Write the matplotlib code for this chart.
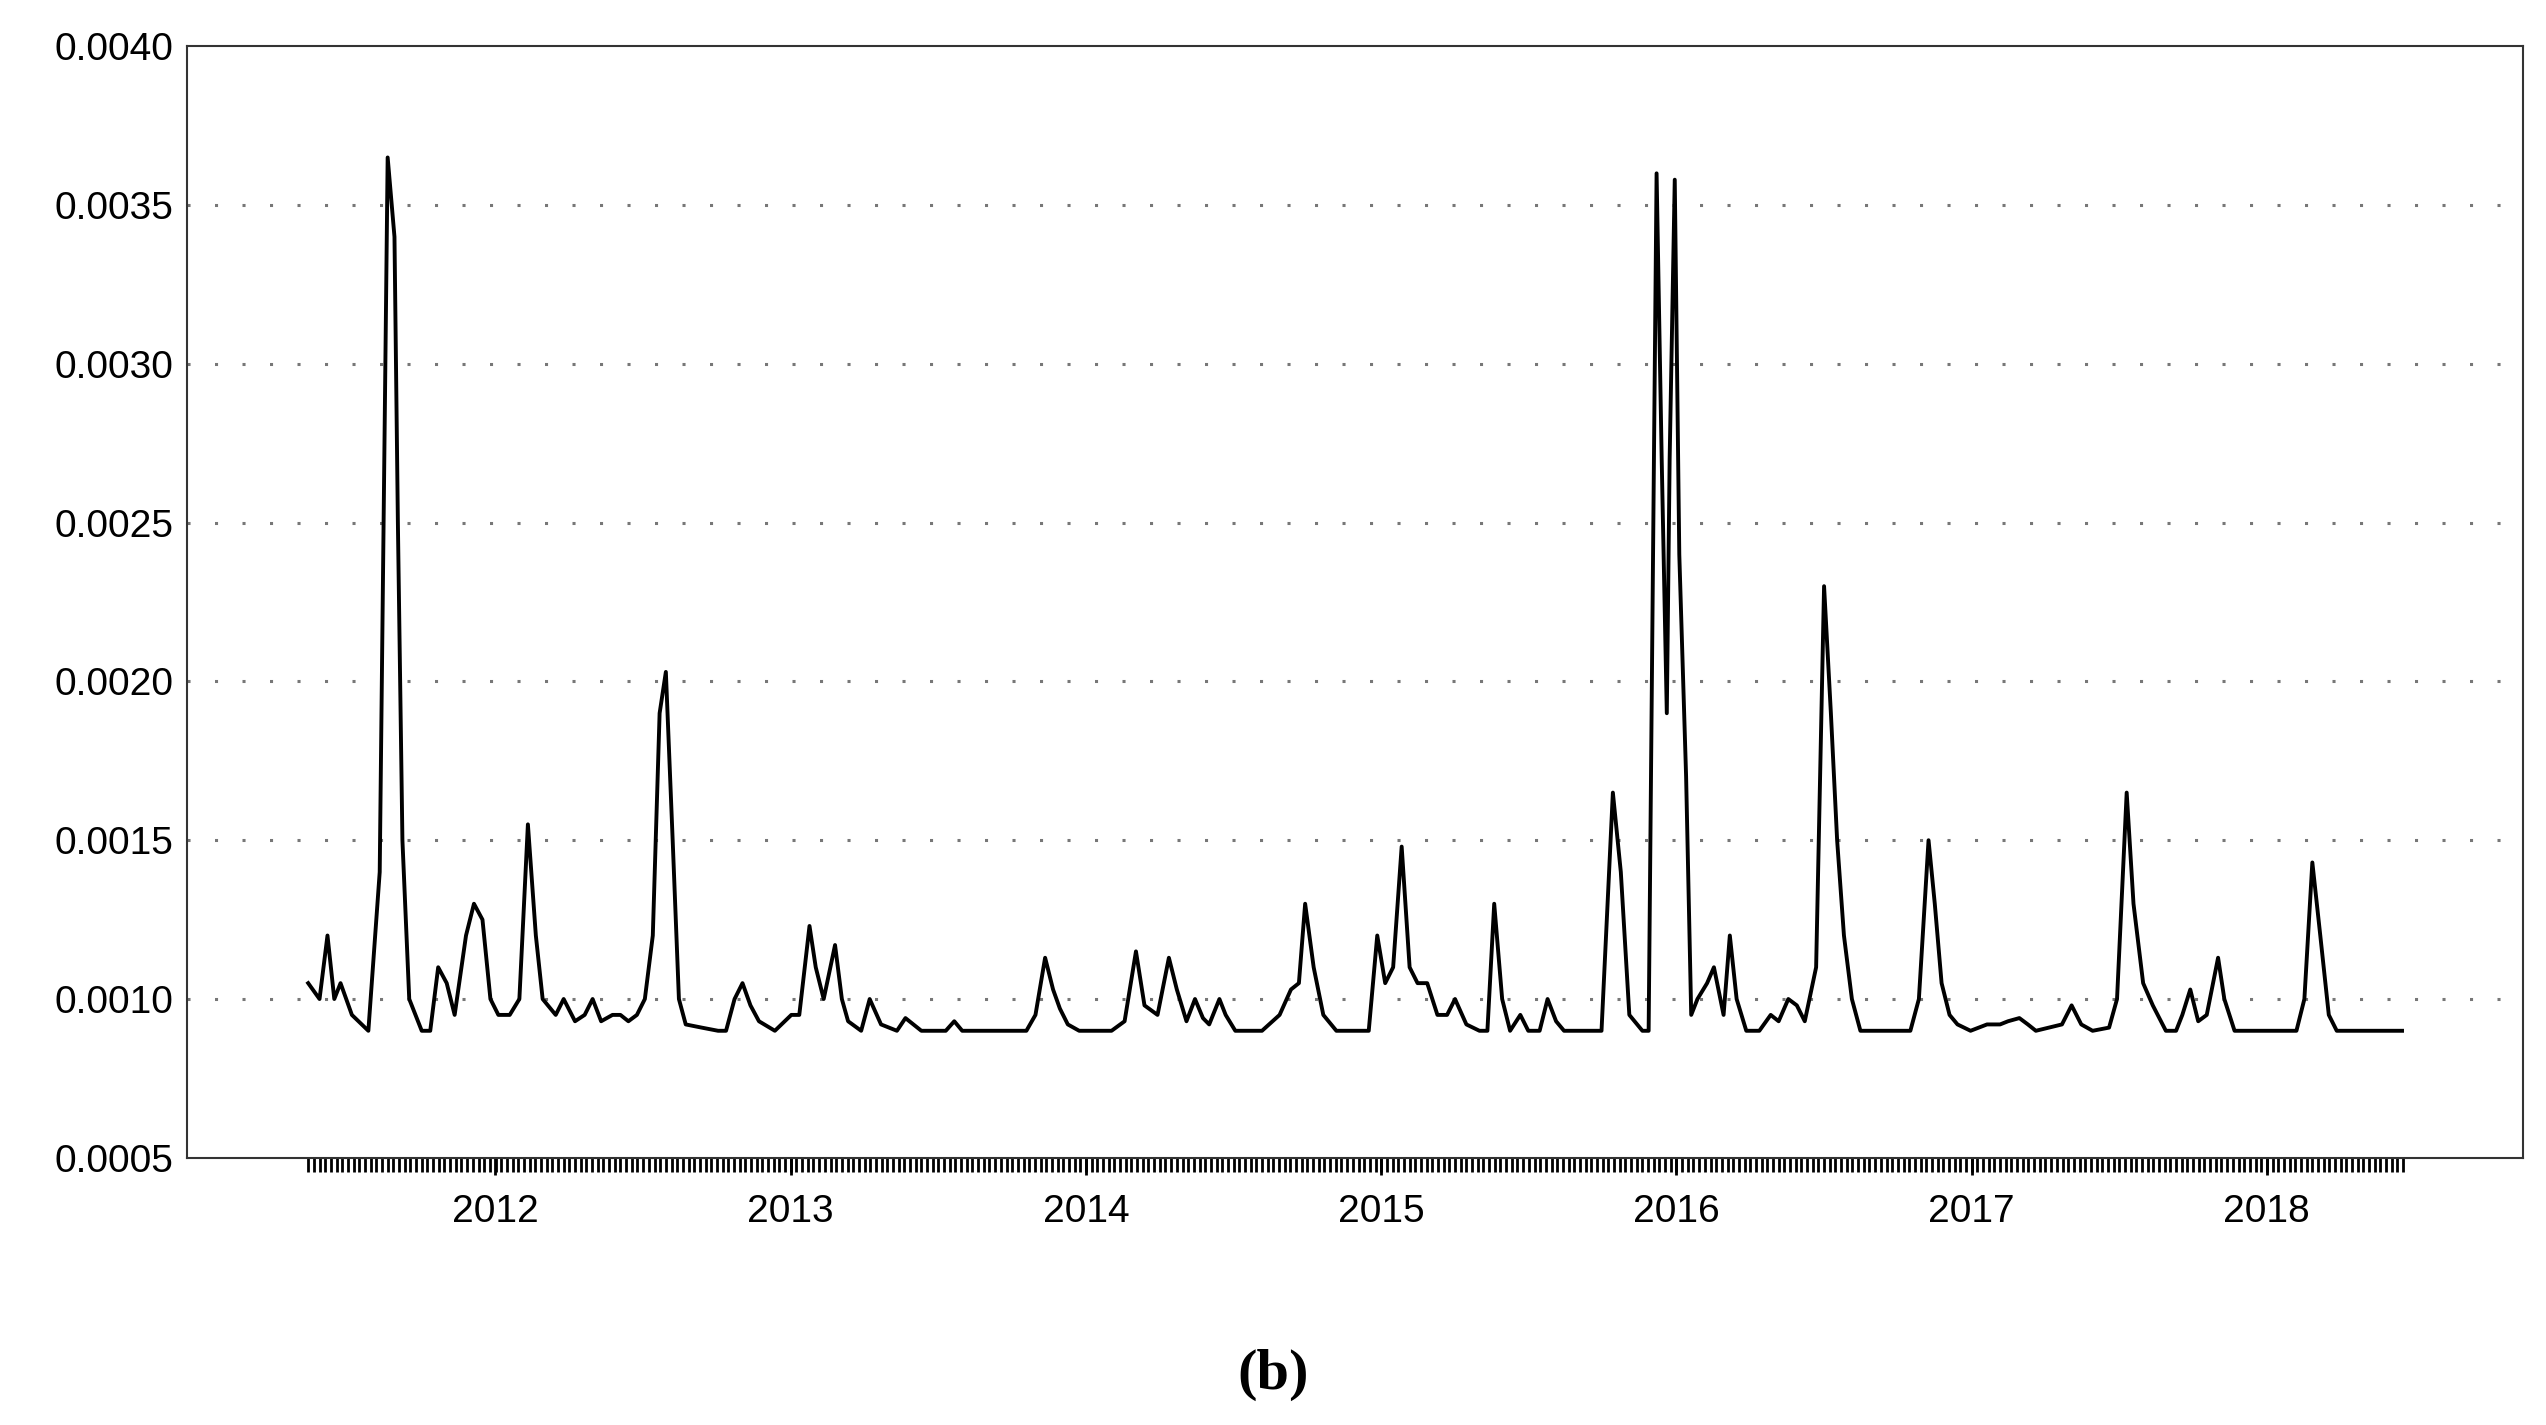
import matplotlib
matplotlib.use("Agg")
import matplotlib.pyplot as plt
import numpy as np
from matplotlib.ticker import FixedLocator, FormatStrFormatter

start_year = 2011.366
week_offsets = [0,2,3.4,4.6,5.7,7.7,10.6,12.6,14,15.2,15.8,16.6,17.8,20,21.5,22.9,24.4,25.8,27.8,29.2,30.7,32.1,33.5,35.5,37.2,38.7,40.1,41.3,43.6,45,47,48.7,50.1,51.6,53.6,55,56.4,57.9,59.3,60.7,61.9,63,64.2,65.3,66.5,69.3,72.2,73.6,75.1,76.5,77.9,79.4,82.2,85.1,86.5,88.3,89.4,90.8,92.8,94,95.1,97.4,98.9,100.9,103.7,105.2,108,112.3,113.8,115.2,126.5,128.1,129.8,131.2,132.4,133.8,135.8,141.5,143.8,145.8,147.3,149.6,151.6,153,154.7,156.2,157.6,158.7,160.5,161.6,163.3,168,171.1,173.1,174.5,175.6,177.1,178.8,181.1,186.8,188.3,189.7,191.1,192.6,194,195.4,197.1,198.9,200.6,202,204,206.3,207.7,208.9,210.3,211.7,213.5,214.9,216.9,218.3,219.8,221.2,226.8,227.8,229.8,231.2,232.7,235,236.1,237.5,238.4,239.3,239.8,240.7,241.5,242.7,243.6,244.7,246.4,247.6,249.3,250.4,251.6,253.3,255.6,257.6,259,260.7,262.2,263.6,265.6,267,268.2,269.3,270.5,271.9,273.4,282.2,283.7,285.4,286.5,287.7,289.1,290.5,292.8,295.7,298,299.4,301.4,302.9,304.3,308.9,310.6,312.3,314.3,317.2,318.6,320.3,321.5,323.2,324.9,327.2,329.0,330.1,331.5,332.9,334.4,336.4,337.5,339.3,350.2,351.6,353,354.4,355.9,357.3,368.8]
values_e4 = [10.5,10,12,10,10.5,9.5,9,14,36.5,34,25,15,10,9,9,11,10.5,9.5,12,13,12.5,10,9.5,9.5,10,15.5,12,10,9.5,10,9.3,9.5,10,9.3,9.5,9.5,9.3,9.5,10,12,19,20.3,15,10,9.2,9.1,9,9.0,10,10.5,9.8,9.3,9,9.5,9.5,12.3,11,10,11.7,10,9.3,9,10,9.2,9,9.4,9,9,9.3,9.0,9.0,9.5,11.3,10.3,9.7,9.2,9.0,9.0,9.3,11.5,9.8,9.5,11.3,10.3,9.3,10,9.4,9.2,10,9.5,9,9.0,9.5,10.3,10.5,13,11,9.5,9,9.0,12,10.5,11,14.8,11,10.5,10.5,9.5,9.5,10,9.2,9,9,13,10,9,9.5,9,9,10,9.3,9,9.0,9,16.5,14,9.5,9,9,36,27,19,27,35.8,24,17,9.5,10,10.5,11,9.5,12,10,9,9,9.5,9.3,10,9.8,9.3,11,23,19,15,12,10,9,9.0,10,15,13,10.5,9.5,9.2,9,9.2,9.2,9.3,9.4,9.2,9,9.2,9.8,9.2,9,9.1,10,16.5,13,10.5,9.8,9,9.0,9.5,10.3,9.3,9.5,11.3,10,9,9.0,10,14.3,12,9.5,9,9]
year_labels = [2012, 2013, 2014, 2015, 2016, 2017, 2018]
y_ticks = [0.0005, 0.0010, 0.0015, 0.0020, 0.0025, 0.0030, 0.0035, 0.0040]

x = start_year + np.array(week_offsets) / 52.0
y = np.array(values_e4) * 1e-4

plt.rcParams['font.family'] = ['Liberation Sans', 'DejaVu Sans']
fig = plt.figure(figsize=(25.46, 14.25), dpi=100)
ax = fig.add_axes([0.0735, 0.1875, 0.9175, 0.78])
ax.plot(x, y, color="black", lw=2.8)
ax.set_ylim(0.0005, 0.0040)
ax.set_xlim(start_year - 0.41, start_year + 368.8 / 52 + 0.41)
ax.yaxis.set_major_locator(FixedLocator(y_ticks))
ax.yaxis.set_major_formatter(FormatStrFormatter('%.4f'))
for yt in y_ticks[1:-1]:
    ax.axhline(yt, color="#777777", ls=(0, (1, 8)), lw=2.2, zorder=0)
ax.set_xticks(year_labels)
ax.set_xticklabels([str(v) for v in year_labels])
ax.set_xticks(start_year + np.arange(0, 370, 1) / 52.0, minor=True)
ax.tick_params(axis='x', which='major', direction='out', length=12, width=2, labelsize=28, pad=14)
ax.tick_params(axis='x', which='minor', direction='out', length=10, width=2)
ax.tick_params(axis='y', length=0, labelsize=28, pad=10)
for s in ax.spines.values():
    s.set_linewidth(1.5)
    s.set_color("#333333")
fig.text(0.5, 0.035, "(b)", ha="center", va="center", fontsize=42, fontweight="bold", family="Liberation Serif")
fig.savefig("out.png", dpi=100)
